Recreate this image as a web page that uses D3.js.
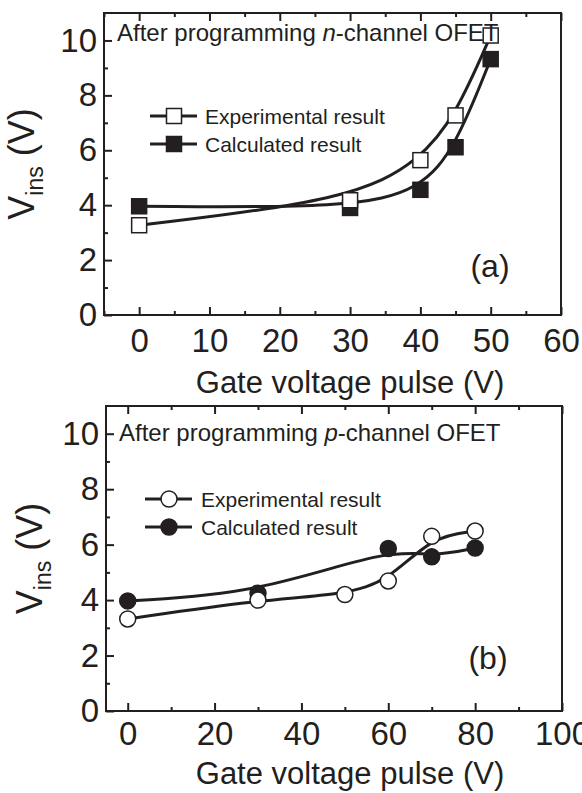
<!DOCTYPE html>
<html>
<head>
<meta charset="utf-8">
<script src="https://cdn.jsdelivr.net/npm/d3@7"></script>
<style>
  body { margin: 0; background: #fff; }
  svg text { font-family: "Liberation Sans", Arial, sans-serif; fill: #231f20; }
</style>
</head>
<body>
<script>
// values
const seriesNames = ["Experimental result", "Calculated result"];
const panelTitles = [["After programming ", "n", "-channel OFET"], ["After programming ", "p", "-channel OFET"]];
const panelLabels = ["(a)", "(b)"];

const pulseA_exp = [0, 30, 40, 45, 50];
const vinsA_exp = [3.27, 4.18, 5.64, 7.27, 10.18];
const pulseA_calc = [0, 30, 40, 45, 50];
const vinsA_calc = [3.96, 3.9, 4.56, 6.11, 9.32];

const pulseB_exp = [0, 30, 50, 60, 70, 80];
const vinsB_exp = [3.32, 4.0, 4.2, 4.69, 6.3, 6.49];
const pulseB_calc = [0, 30, 60, 70, 80];
const vinsB_calc = [3.97, 4.25, 5.86, 5.56, 5.88];

const xTicksA = [0, 10, 20, 30, 40, 50, 60];
const xMinorA = [-5, 5, 15, 25, 35, 45, 55];
const xTicksB = [0, 20, 40, 60, 80, 100];
const xMinorB = [10, 30, 50, 70, 90];
const yTicks = [0, 2, 4, 6, 8, 10];
const yMinor = [1, 3, 5, 7, 9];

const ink = "#231f20";
const svg = d3.select("body").append("svg").attr("width", 582).attr("height", 793);

function zip(xs, ys) { return xs.map((x, i) => ({x: x, y: ys[i]})); }

const panels = [
  {box: {l: 104, r: 561, t: 13, b: 315}, xdom: [-5, 60], xt: xTicksA, xm: xMinorA, pad: 14,
   exp: zip(pulseA_exp, vinsA_exp), calc: zip(pulseA_calc, vinsA_calc), shape: "square",
   title: panelTitles[0], label: panelLabels[0], labelPos: [490, 277], titleY: 41,
   legend: {x1: 150, x2: 197, mx: 174, y: [116, 144], tx: 205}, ytx: 34, xTitleY: 393},
  {box: {l: 106, r: 562, t: 406, b: 711}, xdom: [-5, 100], xt: xTicksB, xm: xMinorB, pad: 11,
   exp: zip(pulseB_exp, vinsB_exp), calc: zip(pulseB_calc, vinsB_calc), shape: "circle",
   title: panelTitles[1], label: panelLabels[1], labelPos: [488, 669], titleY: 441,
   legend: {x1: 145, x2: 192, mx: 169, y: [499, 527], tx: 201}, ytx: 42, xTitleY: 784}
];

panels.forEach(function(p) {
  const x = d3.scaleLinear().domain(p.xdom).range([p.box.l, p.box.r]);
  const y = d3.scaleLinear().domain([0, 11]).range([p.box.b, p.box.t]);
  const g = svg.append("g");

  // axes, ticks pointing inward
  g.append("g").attr("transform", "translate(0," + p.box.b + ")")
    .call(d3.axisBottom(x).tickValues(p.xt).tickSize(-8).tickPadding(p.pad).tickFormat(d3.format("d")));
  g.append("g").attr("transform", "translate(0," + p.box.b + ")")
    .call(d3.axisBottom(x).tickValues(p.xm).tickSize(-4).tickFormat(""));
  g.append("g").attr("transform", "translate(0," + p.box.t + ")")
    .call(d3.axisTop(x).tickValues(p.xt).tickSize(-8).tickFormat(""));
  g.append("g").attr("transform", "translate(0," + p.box.t + ")")
    .call(d3.axisTop(x).tickValues(p.xm).tickSize(-4).tickFormat(""));
  g.append("g").attr("transform", "translate(" + p.box.l + ",0)")
    .call(d3.axisLeft(y).tickValues(yTicks).tickSize(-8).tickPadding(7));
  g.append("g").attr("transform", "translate(" + p.box.l + ",0)")
    .call(d3.axisLeft(y).tickValues(yMinor).tickSize(-4).tickFormat(""));

  g.selectAll(".domain").remove();
  g.selectAll(".tick line").attr("stroke", ink).attr("stroke-width", 2);
  g.selectAll(".tick text").style("font-size", "33px").attr("fill", ink);

  g.append("rect")
    .attr("x", p.box.l).attr("y", p.box.t)
    .attr("width", p.box.r - p.box.l).attr("height", p.box.b - p.box.t)
    .attr("fill", "none").attr("stroke", ink).attr("stroke-width", 2);

  // curves (B-spline like)
  const line = d3.line().x(d => x(d.x)).y(d => y(d.y)).curve(d3.curveBasis);
  [p.calc, p.exp].forEach(function(s) {
    g.append("path").datum(s).attr("d", line)
      .attr("fill", "none").attr("stroke", ink).attr("stroke-width", 3);
  });

  function marks(sel, data, filled) {
    if (p.shape === "square") {
      sel.selectAll(null).data(data).enter().append("rect")
        .attr("x", d => x(d.x) - 7.5).attr("y", d => y(d.y) - 7.5)
        .attr("width", 15).attr("height", 15)
        .attr("fill", filled ? ink : "#fff").attr("stroke", ink).attr("stroke-width", 1.5);
    } else {
      sel.selectAll(null).data(data).enter().append("circle")
        .attr("cx", d => x(d.x)).attr("cy", d => y(d.y)).attr("r", 8)
        .attr("fill", filled ? ink : "#fff").attr("stroke", ink).attr("stroke-width", 1.5);
    }
  }
  marks(g.append("g"), p.calc, true);
  marks(g.append("g"), p.exp, false);

  // legend
  const lg = g.append("g");
  seriesNames.forEach(function(name, i) {
    const ly = p.legend.y[i];
    lg.append("line").attr("x1", p.legend.x1).attr("x2", p.legend.x2)
      .attr("y1", ly).attr("y2", ly).attr("stroke", ink).attr("stroke-width", 3);
    marks(lg.append("g"), [{x: x.invert(p.legend.mx), y: y.invert(ly)}], i === 1);
    lg.append("text").attr("x", p.legend.tx).attr("y", ly).attr("dy", "0.36em")
      .style("font-size", "21px").text(name);
  });

  // panel title
  const t = g.append("text").attr("x", p.box.l + 13).attr("y", p.titleY).style("font-size", "24px");
  t.append("tspan").text(p.title[0]);
  t.append("tspan").style("font-style", "italic").text(p.title[1]);
  t.append("tspan").text(p.title[2]);

  g.append("text").attr("x", p.labelPos[0]).attr("y", p.labelPos[1])
    .attr("text-anchor", "middle").style("font-size", "32px").text(p.label);

  // axis titles
  g.append("text").attr("x", 350).attr("y", p.xTitleY).attr("text-anchor", "middle")
    .style("font-size", "31px").text("Gate voltage pulse (V)");

  const yt = g.append("text")
    .attr("transform", "translate(" + p.ytx + "," + ((p.box.t + p.box.b) / 2) + ") rotate(-90)")
    .attr("text-anchor", "middle").style("font-size", "36px");
  yt.append("tspan").text("V");
  yt.append("tspan").attr("dy", 9).style("font-size", "23px").text("ins");
  yt.append("tspan").attr("dy", -9).text(" (V)");
});
</script>
</body>
</html>
